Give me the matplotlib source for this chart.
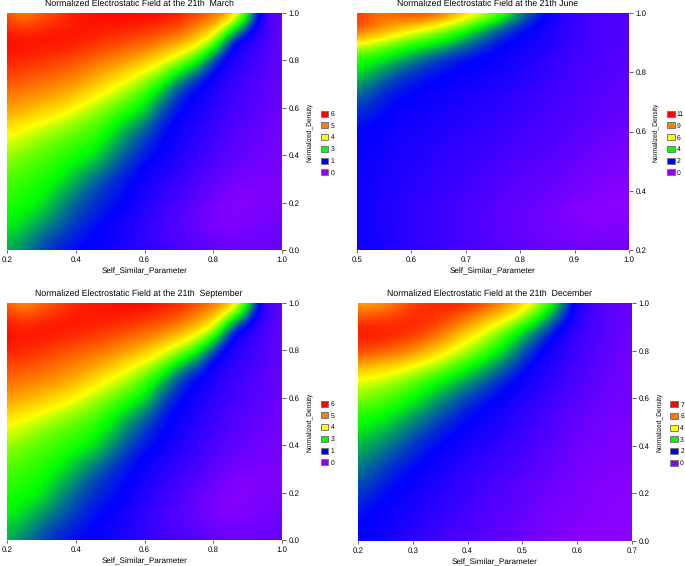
import numpy as np
import matplotlib
matplotlib.use('Agg')
import matplotlib.pyplot as plt
from matplotlib.colors import LinearSegmentedColormap
from matplotlib.patches import Patch

plt.rcParams['font.family'] = ['Liberation Sans', 'DejaVu Sans']
plt.rcParams['text.hinting'] = 'none'

# field values on the colour scale: 0 purple, 1 blue, 2 green, 3 yellow, 4 orange, 5 red
# rows run from the top of the panel to the bottom
march_z = np.array([
    [4.3, 3.7, 4.2, 4.4, 4.8, 4.9, 5.0, 5.0, 5.0, 5.0, 4.9, 4.6, 4.4, 4.1, 2.2, 0.55, 0.3],
    [5.0, 5.0, 5.0, 5.0, 4.9, 4.8, 4.7, 4.6, 4.5, 4.3, 4.1, 3.6, 3.0, 1.1, 0.75, 0.5, 0.3],
    [4.8, 4.7, 4.6, 4.5, 4.4, 4.2, 4.0, 3.8, 3.5, 3.1, 2.6, 2.05, 1.1, 0.8, 0.65, 0.45, 0.3],
    [4.3, 4.2, 4.1, 4.0, 3.8, 3.5, 3.2, 2.8, 2.4, 2.0, 1.3, 1.0, 0.85, 0.65, 0.5, 0.4, 0.25],
    [3.8, 3.7, 3.5, 3.3, 3.0, 2.7, 2.4, 2.2, 1.95, 1.3, 1.05, 0.9, 0.7, 0.55, 0.45, 0.35, 0.25],
    [3.1, 2.9, 2.7, 2.5, 2.35, 2.2, 2.0, 1.6, 1.3, 1.05, 0.9, 0.75, 0.6, 0.45, 0.35, 0.3, 0.2],
    [2.6, 2.45, 2.3, 2.2, 2.1, 2.0, 1.6, 1.3, 1.1, 1.0, 0.8, 0.65, 0.5, 0.35, 0.3, 0.2, 0.2],
    [2.3, 2.2, 2.1, 2.0, 1.7, 1.4, 1.2, 1.05, 0.9, 0.75, 0.6, 0.5, 0.35, 0.25, 0.15, 0.15, 0.15],
    [2.15, 2.05, 2.0, 1.6, 1.4, 1.2, 1.1, 1.0, 0.8, 0.65, 0.5, 0.35, 0.2, 0.05, 0.05, 0.1, 0.15],
    [1.95, 1.85, 1.55, 1.4, 1.2, 1.05, 0.95, 0.8, 0.65, 0.5, 0.4, 0.25, 0.15, 0.1, 0.15, 0.2, 0.25],
    [1.7, 1.45, 1.25, 1.1, 1.0, 0.95, 0.9, 0.8, 0.7, 0.6, 0.5, 0.45, 0.35, 0.3, 0.3, 0.3, 0.3],
])

june_z = np.array([
    [4.6, 4.0, 4.7, 4.5, 3.4, 2.7, 1.6, 1.0, 0.6, 0.5, 0.4],
    [4.6, 3.9, 3.3, 2.7, 2.2, 1.5, 1.05, 0.85, 0.6, 0.5, 0.4],
    [3.1, 2.6, 2.2, 2.0, 1.5, 1.1, 0.95, 0.8, 0.6, 0.5, 0.4],
    [2.15, 2.0, 1.6, 1.25, 1.05, 0.95, 0.85, 0.7, 0.55, 0.45, 0.4],
    [2.0, 1.5, 1.2, 1.05, 0.95, 0.9, 0.8, 0.65, 0.5, 0.45, 0.35],
    [1.6, 1.2, 1.05, 0.95, 0.9, 0.8, 0.7, 0.6, 0.5, 0.4, 0.35],
    [1.35, 1.05, 0.95, 0.9, 0.8, 0.75, 0.65, 0.55, 0.45, 0.4, 0.3],
    [1.15, 1.0, 0.9, 0.85, 0.75, 0.7, 0.6, 0.5, 0.45, 0.35, 0.3],
    [1.02, 0.95, 0.85, 0.8, 0.7, 0.65, 0.55, 0.5, 0.4, 0.3, 0.25],
    [1.0, 0.9, 0.8, 0.75, 0.65, 0.6, 0.5, 0.45, 0.35, 0.25, 0.2],
    [0.95, 0.85, 0.8, 0.7, 0.6, 0.55, 0.45, 0.4, 0.3, 0.2, 0.15],
    [0.95, 0.85, 0.75, 0.65, 0.6, 0.5, 0.4, 0.35, 0.25, 0.15, 0.1],
    [0.95, 0.8, 0.75, 0.65, 0.55, 0.45, 0.35, 0.3, 0.2, 0.1, 0.05],
    [0.95, 0.8, 0.7, 0.6, 0.5, 0.4, 0.3, 0.25, 0.1, 0.02, 0.05],
    [0.95, 0.8, 0.7, 0.6, 0.5, 0.4, 0.3, 0.2, 0.1, 0.05, 0.1],
    [0.95, 0.8, 0.7, 0.6, 0.5, 0.4, 0.3, 0.25, 0.15, 0.1, 0.15],
    [0.95, 0.85, 0.7, 0.6, 0.5, 0.45, 0.35, 0.3, 0.25, 0.2, 0.2],
])

september_z = np.array([
    [4.2, 3.6, 4.1, 4.3, 4.7, 4.8, 4.9, 5.0, 5.0, 4.9, 4.8, 4.5, 4.3, 4.0, 2.2, 0.55, 0.3],
    [5.0, 4.9, 5.0, 5.0, 4.9, 4.8, 4.7, 4.6, 4.4, 4.3, 4.0, 3.6, 3.0, 1.1, 0.75, 0.5, 0.3],
    [4.8, 4.7, 4.6, 4.4, 4.3, 4.2, 4.0, 3.8, 3.5, 3.1, 2.6, 2.05, 1.1, 0.8, 0.65, 0.45, 0.3],
    [4.3, 4.2, 4.1, 4.0, 3.8, 3.5, 3.2, 2.8, 2.4, 2.0, 1.3, 1.0, 0.85, 0.65, 0.5, 0.4, 0.25],
    [3.8, 3.7, 3.5, 3.3, 3.0, 2.7, 2.4, 2.2, 1.95, 1.3, 1.05, 0.9, 0.7, 0.55, 0.45, 0.35, 0.25],
    [3.1, 2.9, 2.7, 2.5, 2.35, 2.2, 2.0, 1.6, 1.3, 1.05, 0.9, 0.75, 0.6, 0.45, 0.35, 0.3, 0.2],
    [2.6, 2.45, 2.3, 2.2, 2.1, 2.0, 1.6, 1.3, 1.1, 1.0, 0.8, 0.65, 0.5, 0.35, 0.3, 0.2, 0.2],
    [2.3, 2.2, 2.1, 2.0, 1.7, 1.4, 1.2, 1.05, 0.9, 0.75, 0.6, 0.5, 0.35, 0.25, 0.15, 0.15, 0.15],
    [2.15, 2.05, 2.0, 1.6, 1.4, 1.2, 1.1, 1.0, 0.8, 0.65, 0.5, 0.35, 0.2, 0.05, 0.05, 0.1, 0.15],
    [1.95, 1.85, 1.55, 1.4, 1.2, 1.05, 0.95, 0.8, 0.65, 0.5, 0.4, 0.25, 0.15, 0.1, 0.15, 0.2, 0.25],
    [1.7, 1.45, 1.25, 1.1, 1.0, 0.95, 0.9, 0.8, 0.7, 0.6, 0.5, 0.45, 0.35, 0.3, 0.3, 0.3, 0.3],
])

december_z = np.array([
    [3.5, 3.6, 4.5, 4.8, 4.9, 4.4, 3.6, 2.4, 0.7, 0.4, 0.25],
    [5.0, 5.0, 4.9, 4.5, 3.6, 2.8, 2.0, 1.15, 0.65, 0.4, 0.25],
    [4.6, 4.4, 4.0, 3.3, 2.6, 2.1, 1.3, 0.85, 0.55, 0.35, 0.2],
    [3.1, 2.9, 2.5, 2.15, 1.8, 1.3, 1.0, 0.7, 0.5, 0.3, 0.2],
    [2.5, 2.3, 2.05, 1.6, 1.2, 1.0, 0.8, 0.6, 0.4, 0.25, 0.2],
    [2.05, 1.9, 1.5, 1.2, 1.0, 0.85, 0.65, 0.45, 0.3, 0.2, 0.15],
    [1.75, 1.5, 1.2, 1.0, 0.85, 0.7, 0.55, 0.4, 0.25, 0.15, 0.1],
    [1.5, 1.2, 1.0, 0.85, 0.7, 0.55, 0.45, 0.3, 0.2, 0.1, 0.1],
    [1.25, 1.0, 0.9, 0.75, 0.6, 0.45, 0.35, 0.25, 0.15, 0.05, 0.05],
    [1.05, 0.95, 0.8, 0.65, 0.5, 0.4, 0.3, 0.15, 0.1, 0.05, 0.05],
    [1.0, 0.85, 0.7, 0.55, 0.45, 0.35, 0.25, 0.15, 0.05, 0.02, 0.02],
])

march_legend = ['6', '5', '4', '3', '1', '0']
june_legend = ['11', '9', '6', '4', '2', '0']
september_legend = ['6', '5', '4', '3', '1', '0']
december_legend = ['7', '6', '4', '3', '2', '0']

march_xticks = [0.2, 0.4, 0.6, 0.8, 1.0]
june_xticks = [0.5, 0.6, 0.7, 0.8, 0.9, 1.0]
december_xticks = [0.2, 0.3, 0.4, 0.5, 0.6, 0.7]
yticks = [0.0, 0.2, 0.4, 0.6, 0.8, 1.0]
june_yticks = [0.2, 0.4, 0.6, 0.8, 1.0]

scale_colors = ['#8f00ff', '#0000ff', '#00ff00', '#ffff00', '#ff8000', '#ff0000']
cmap = LinearSegmentedColormap.from_list('field', scale_colors)
W, H = 685, 566


def draw_panel(box, z, xlim, ylim, xticks, yt, title, legend_labels):
    left, top, right, bottom = box
    ax = fig.add_axes([left / W, 1 - bottom / H, (right - left) / W, (bottom - top) / H])

    # half a cell wider so that the cell centres sit on the grid values
    dx = (xlim[1] - xlim[0]) / (z.shape[1] - 1) / 2
    dy = (ylim[1] - ylim[0]) / (z.shape[0] - 1) / 2
    ax.imshow(z, cmap=cmap, vmin=0, vmax=5, aspect='auto', origin='upper',
              interpolation='bicubic', interpolation_stage='data',
              extent=[xlim[0] - dx, xlim[1] + dx, ylim[0] - dy, ylim[1] + dy])
    ax.set_xlim(xlim)
    ax.set_ylim(ylim)

    for s in ax.spines.values():
        s.set_visible(False)
    ax.yaxis.tick_right()
    ax.set_xticks(xticks)
    ax.set_yticks(yt)
    ax.set_xticklabels([f'{t:.1f}' for t in xticks])
    ax.set_yticklabels([f'{t:.1f}' for t in yt])
    ax.tick_params(axis='x', length=2, width=0.6, labelsize=5.7, pad=2.5, color='#444444')
    ax.tick_params(axis='y', length=3, width=0.6, labelsize=5.7, pad=1.5, color='#444444')

    ax.text(0.48, 1.022, title, transform=ax.transAxes, ha='center', va='bottom', fontsize=6.3)
    ax.annotate('Self_Similar_Parameter', xy=(0.5, 0), xycoords='axes fraction',
                xytext=(0, -15.7), textcoords='offset points',
                ha='center', va='center', fontsize=5.85)
    ax.text(1.098, 0.498, 'Normalized_Density', transform=ax.transAxes, rotation=90,
            ha='center', va='center', fontsize=4.8)

    handles = [Patch(facecolor=c, edgecolor='#777777', linewidth=0.7, label=l)
               for c, l in zip(scale_colors[::-1], legend_labels)]
    ax.legend(handles=handles, loc='center left', bbox_to_anchor=(1.14, 0.45), frameon=False,
              fontsize=4.9, handlelength=1.15, handleheight=1.0, handletextpad=0.3,
              labelspacing=0.72, borderpad=0, borderaxespad=0)
    return ax


fig = plt.figure(figsize=(W / 100, H / 100), dpi=100)

draw_panel((7, 13, 282, 250), march_z, (0.2, 1.0), (0.0, 1.0), march_xticks, yticks,
           'Normalized Electrostatic Field at the 21th  March', march_legend)
draw_panel((357, 13, 629, 250), june_z, (0.5, 1.0), (0.2, 1.0), june_xticks, june_yticks,
           'Normalized Electrostatic Field at the 21th June', june_legend)
draw_panel((7, 303, 282, 540), september_z, (0.2, 1.0), (0.0, 1.0), march_xticks, yticks,
           'Normalized Electrostatic Field at the 21th  September', september_legend)
draw_panel((358, 303, 632, 541), december_z, (0.2, 0.7), (0.0, 1.0), december_xticks, yticks,
           'Normalized Electrostatic Field at the 21th  December', december_legend)

plt.savefig('out.png', dpi=100)
